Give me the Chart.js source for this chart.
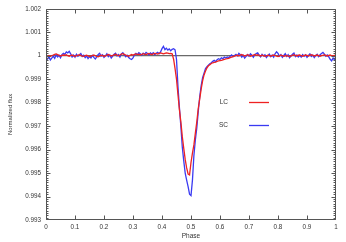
<!DOCTYPE html>
<html>
<head>
<meta charset="utf-8">
<script src="https://cdn.jsdelivr.net/npm/chart.js@4"></script>
<style>
  html, body { margin: 0; padding: 0; background: #fff; }
  #wrap { width: 346px; height: 242px; }
</style>
</head>
<body>
<div id="wrap"><canvas id="lcChart" width="346" height="242"></canvas></div>
<script>
// phase grid shared by both curves
const phase = [
  0, 0.005, 0.01, 0.015, 0.02, 0.025, 0.03, 0.035, 0.04, 0.045,
  0.05, 0.055, 0.06, 0.065, 0.07, 0.075, 0.08, 0.085, 0.09, 0.095,
  0.1, 0.105, 0.11, 0.115, 0.12, 0.125, 0.13, 0.135, 0.14, 0.145,
  0.15, 0.155, 0.16, 0.165, 0.17, 0.175, 0.18, 0.185, 0.19, 0.195,
  0.2, 0.205, 0.21, 0.215, 0.22, 0.225, 0.23, 0.235, 0.24, 0.245,
  0.25, 0.255, 0.26, 0.265, 0.27, 0.275, 0.28, 0.285, 0.29, 0.295,
  0.3, 0.305, 0.31, 0.315, 0.32, 0.325, 0.33, 0.335, 0.34, 0.345,
  0.35, 0.355, 0.36, 0.365, 0.37, 0.375, 0.38, 0.385, 0.39, 0.395,
  0.4, 0.405, 0.41, 0.415, 0.42, 0.425, 0.43, 0.435, 0.44, 0.445,
  0.45, 0.455, 0.46, 0.465, 0.47, 0.475, 0.48, 0.485, 0.49, 0.495,
  0.5, 0.505, 0.51, 0.515, 0.52, 0.525, 0.53, 0.535, 0.54, 0.545,
  0.55, 0.555, 0.56, 0.565, 0.57, 0.575, 0.58, 0.585, 0.59, 0.595,
  0.6, 0.605, 0.61, 0.615, 0.62, 0.625, 0.63, 0.635, 0.64, 0.645,
  0.65, 0.655, 0.66, 0.665, 0.67, 0.675, 0.68, 0.685, 0.69, 0.695,
  0.7, 0.705, 0.71, 0.715, 0.72, 0.725, 0.73, 0.735, 0.74, 0.745,
  0.75, 0.755, 0.76, 0.765, 0.77, 0.775, 0.78, 0.785, 0.79, 0.795,
  0.8, 0.805, 0.81, 0.815, 0.82, 0.825, 0.83, 0.835, 0.84, 0.845,
  0.85, 0.855, 0.86, 0.865, 0.87, 0.875, 0.88, 0.885, 0.89, 0.895,
  0.9, 0.905, 0.91, 0.915, 0.92, 0.925, 0.93, 0.935, 0.94, 0.945,
  0.95, 0.955, 0.96, 0.965, 0.97, 0.975, 0.98, 0.985, 0.99, 0.995,
  1
];

// long cadence (LC)
const lcFlux = [
  0.99998, 0.99996, 1.00000, 0.99997, 1.00001, 1.00003, 1.00006, 1.00008, 1.00005, 1.00002,
  0.99999, 1.00001, 1.00003, 1.00002, 1.00004, 1.00000, 0.99998, 1.00001, 1.00003, 0.99999,
  0.99997, 1.00000, 1.00002, 1.00004, 1.00001, 0.99998, 0.99997, 1.00000, 1.00002, 0.99999,
  0.99996, 0.99998, 1.00001, 1.00003, 1.00000, 0.99997, 0.99995, 0.99998, 1.00002, 1.00000,
  0.99997, 0.99999, 1.00003, 1.00005, 1.00002, 0.99999, 1.00001, 1.00004, 1.00006, 1.00003,
  1.00000, 1.00003, 1.00007, 1.00009, 1.00006, 1.00003, 1.00000, 0.99998, 1.00002, 1.00005,
  1.00003, 1.00006, 1.00008, 1.00005, 1.00007, 1.00004, 1.00006, 1.00009, 1.00007, 1.00005,
  1.00008, 1.00010, 1.00007, 1.00005, 1.00008, 1.00010, 1.00009, 1.00007, 1.00010, 1.00012,
  1.00010, 1.00008, 1.00010, 1.00012, 1.00011, 1.00009, 1.00010, 1.00008, 0.99985, 0.99945,
  0.99900, 0.99835, 0.99770, 0.99718, 0.99655, 0.99605, 0.99558, 0.99522, 0.99496, 0.99492,
  0.99545, 0.99585, 0.99620, 0.99670, 0.99718, 0.99775, 0.99815, 0.99858, 0.99893, 0.99918,
  0.99935, 0.99948, 0.99957, 0.99962, 0.99967, 0.99970, 0.99972, 0.99973, 0.99976, 0.99978,
  0.99979, 0.99980, 0.99982, 0.99984, 0.99986, 0.99988, 0.99989, 0.99992, 0.99994, 0.99996,
  0.99998, 1.00000, 1.00002, 0.99999, 1.00003, 1.00005, 1.00002, 0.99999, 1.00001, 1.00004,
  1.00002, 0.99998, 1.00000, 1.00003, 1.00005, 1.00002, 1.00004, 1.00001, 0.99999, 1.00002,
  1.00000, 0.99997, 0.99999, 1.00002, 1.00000, 0.99998, 1.00001, 1.00003, 1.00001, 0.99998,
  0.99996, 0.99999, 1.00002, 1.00000, 0.99997, 0.99999, 1.00001, 0.99998, 0.99996, 0.99999,
  1.00002, 1.00004, 1.00001, 0.99999, 1.00002, 1.00003, 1.00000, 0.99998, 1.00001, 1.00003,
  1.00001, 0.99999, 1.00002, 1.00004, 1.00002, 0.99999, 1.00001, 1.00003, 1.00001, 0.99998,
  1.00000, 1.00002, 1.00004, 1.00001, 0.99999, 1.00001, 1.00003, 1.00000, 0.99998, 1.00001,
  1.00002
];

// short cadence (SC)
const scFlux = [
  0.99992, 0.99985, 0.99996, 0.99982, 0.99990, 0.99998, 0.99989, 1.00004, 0.99995, 1.00002,
  0.99991, 1.00005, 1.00010, 1.00006, 1.00016, 1.00012, 1.00019, 1.00008, 0.99995, 1.00003,
  0.99994, 1.00006, 0.99998, 1.00004, 1.00009, 0.99997, 1.00002, 0.99992, 0.99999, 0.99988,
  0.99996, 0.99990, 1.00001, 0.99993, 0.99986, 0.99995, 1.00005, 1.00010, 0.99998, 1.00004,
  0.99993, 0.99999, 1.00008, 0.99996, 1.00003, 0.99990, 0.99998, 1.00006, 1.00011, 0.99999,
  1.00005, 0.99994, 1.00008, 1.00013, 1.00004, 0.99996, 1.00002, 0.99992, 0.99987, 0.99984,
  0.99991, 1.00003, 1.00010, 1.00005, 1.00013, 1.00008, 1.00002, 1.00011, 1.00006, 1.00014,
  1.00009, 1.00003, 1.00012, 1.00007, 1.00013, 1.00004, 1.00010, 1.00014, 1.00008, 1.00016,
  1.00030, 1.00040, 1.00026, 1.00032, 1.00024, 1.00029, 1.00021, 1.00027, 1.00030, 1.00025,
  0.99985, 0.99870, 0.99780, 0.99700, 0.99610, 0.99552, 0.99500, 0.99470, 0.99442, 0.99410,
  0.99404, 0.99470, 0.99575, 0.99641, 0.99692, 0.99762, 0.99825, 0.99872, 0.99906, 0.99926,
  0.99945, 0.99953, 0.99960, 0.99966, 0.99970, 0.99976, 0.99980, 0.99975, 0.99983, 0.99987,
  0.99984, 0.99991, 0.99987, 0.99994, 0.99990, 0.99995, 0.99992, 0.99998, 1.00003, 0.99996,
  1.00001, 1.00006, 0.99999, 1.00010, 1.00004, 0.99994, 1.00002, 0.99990, 0.99997, 1.00005,
  0.99998, 1.00008, 1.00002, 0.99993, 1.00004, 1.00009, 1.00012, 1.00003, 0.99995, 1.00006,
  0.99999, 1.00004, 0.99992, 1.00000, 1.00007, 0.99996, 1.00003, 0.99994, 1.00008, 1.00017,
  1.00010, 0.99998, 1.00005, 0.99993, 1.00001, 1.00009, 0.99997, 1.00004, 0.99991, 0.99999,
  1.00006, 1.00011, 0.99996, 1.00003, 0.99995, 1.00002, 0.99994, 1.00005, 0.99998, 1.00004,
  0.99993, 1.00001, 1.00008, 0.99997, 1.00003, 0.99992, 1.00000, 1.00006, 0.99996, 1.00004,
  1.00009, 1.00014, 1.00007, 0.99998, 1.00003, 0.99995, 0.99985, 0.99978, 0.99990, 0.99982,
  1.00000
];

// reference line at flux = 1
const refPhase = [0, 1];
const refFlux = [1, 1];

const xMin = 0, xMax = 1, xStep = 0.1;
const yMin = 0.993, yMax = 1.002, yStep = 0.001, yMinorStep = 0.0001;

const lcColor = '#ee2222';
const scColor = '#3a3af2';
const axisColor = '#555';
const textColor = '#333';

function toPoints(xs, ys) {
    return xs.map((v, i) => ({ x: v, y: ys[i] }));
}

// gnuplot style frame with inward ticks
const frameTicks = {
    id: 'frameTicks',
    afterDatasetsDraw(chart) {
        const { ctx, chartArea: a, scales: { x, y } } = chart;
        const L = Math.round(a.left) + 0.5, R = Math.round(a.right) - 0.5;
        const T = Math.round(a.top) + 0.5, B = Math.round(a.bottom) - 0.5;
        const clamp = (v, lo, hi) => Math.min(hi, Math.max(lo, v));
        ctx.save();
        ctx.strokeStyle = axisColor;
        ctx.lineWidth = 1;
        ctx.beginPath();
        ctx.rect(L, T, R - L, B - T);
        x.ticks.forEach(t => {
            const px = clamp(Math.round(x.getPixelForValue(t.value)) + 0.5, L, R);
            ctx.moveTo(px, B); ctx.lineTo(px, B - 4);
            ctx.moveTo(px, T); ctx.lineTo(px, T + 4);
        });
        const nMinor = Math.round((yMax - yMin) / yMinorStep);
        for (let i = 0; i <= nMinor; i++) {
            const v = yMin + i * yMinorStep;
            const len = i % 10 === 0 ? 4 : 2;
            const py = clamp(Math.round(y.getPixelForValue(v)) + 0.5, T, B);
            ctx.moveTo(L, py); ctx.lineTo(L + len, py);
            ctx.moveTo(R, py); ctx.lineTo(R - len, py);
        }
        ctx.stroke();
        ctx.restore();
    }
};

// key inside the plot: label then line sample
const keyBox = {
    id: 'keyBox',
    afterDatasetsDraw(chart) {
        const { ctx } = chart;
        const items = [
            { label: chart.data.datasets[0].label, color: lcColor, y: 102.5 },
            { label: chart.data.datasets[1].label, color: scColor, y: 125.5 }
        ];
        ctx.save();
        ctx.font = '6.5px "Liberation Sans", Arial, sans-serif';
        ctx.fillStyle = textColor;
        ctx.textAlign = 'right';
        ctx.textBaseline = 'middle';
        items.forEach(it => {
            ctx.fillText(it.label, 228, it.y);
            ctx.strokeStyle = it.color;
            ctx.lineWidth = 1.3;
            ctx.beginPath();
            ctx.moveTo(249, it.y);
            ctx.lineTo(269, it.y);
            ctx.stroke();
        });
        ctx.restore();
    }
};

const tickFont = { family: '"Liberation Sans", Arial, sans-serif', size: 6.3 };

new Chart(document.getElementById('lcChart'), {
    type: 'line',
    data: {
        datasets: [
            {
                label: 'LC',
                data: toPoints(phase, lcFlux),
                borderColor: lcColor,
                borderWidth: 1.3,
                pointRadius: 0,
                tension: 0,
                order: 0
            },
            {
                label: 'SC',
                data: toPoints(phase, scFlux),
                borderColor: scColor,
                borderWidth: 1.3,
                pointRadius: 0,
                tension: 0,
                order: 1
            },
            {
                label: 'ref',
                data: toPoints(refPhase, refFlux),
                borderColor: '#444',
                borderWidth: 1,
                pointRadius: 0,
                order: 2
            }
        ]
    },
    options: {
        responsive: false,
        animation: false,
        devicePixelRatio: 1,
        layout: { padding: { top: 8, right: 10, left: 0, bottom: 0 } },
        plugins: {
            legend: { display: false },
            tooltip: { enabled: false }
        },
        scales: {
            x: {
                type: 'linear',
                min: xMin,
                max: xMax,
                afterFit(scale) { scale.height = 22; },
                grid: { display: false, drawTicks: false },
                border: { display: false },
                ticks: {
                    stepSize: xStep,
                    padding: 3,
                    maxRotation: 0,
                    color: textColor,
                    font: tickFont,
                    callback: v => Number(v.toFixed(1)).toString()
                },
                title: {
                    display: true,
                    text: 'Phase',
                    color: textColor,
                    font: { family: '"Liberation Sans", Arial, sans-serif', size: 6.5 },
                    padding: { top: 0, bottom: 1.4 }
                }
            },
            y: {
                type: 'linear',
                min: yMin,
                max: yMax,
                afterFit(scale) { scale.width = 46; },
                grid: { display: false, drawTicks: false },
                border: { display: false },
                ticks: {
                    stepSize: yStep,
                    padding: 5,
                    color: textColor,
                    font: tickFont,
                    callback: v => Number(v.toFixed(3)).toString()
                },
                title: {
                    display: true,
                    text: 'Normalized flux',
                    color: textColor,
                    font: { family: '"Liberation Sans", Arial, sans-serif', size: 6 },
                    padding: { top: 6.4, bottom: 0 }
                }
            }
        }
    },
    plugins: [frameTicks, keyBox]
});
</script>
</body>
</html>
